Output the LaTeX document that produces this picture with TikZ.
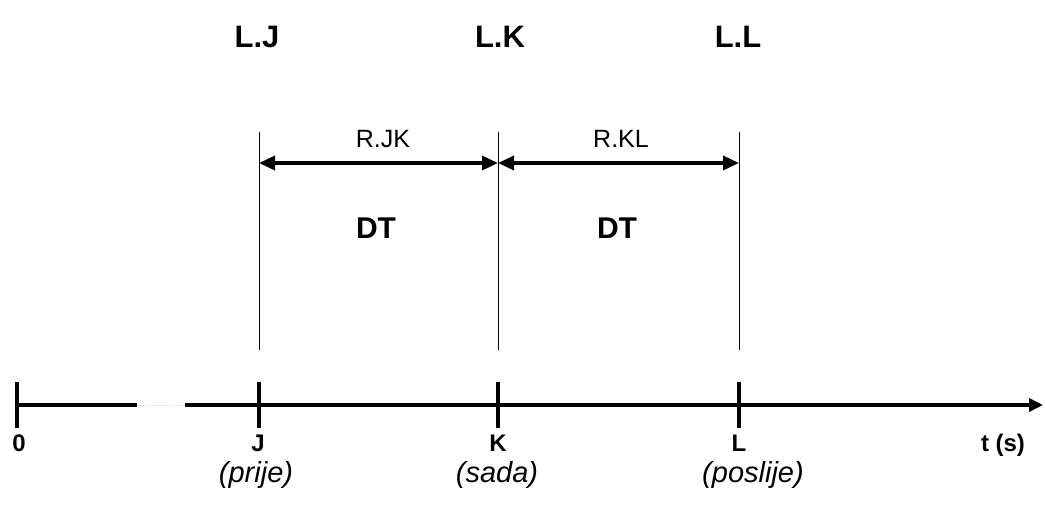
\documentclass[tikz,border=0pt]{standalone}
\usepackage{fontspec}
\setmainfont{Liberation Sans}
\usetikzlibrary{arrows.meta}
\begin{document}
\begin{tikzpicture}[x=1pt,y=-1pt,
  axis/.style={line width=4pt},
  tick/.style={line width=4pt},
  guide/.style={line width=0.9pt},
  span/.style={line width=3.5pt,{Triangle[length=16pt,width=14pt]}-{Triangle[length=16pt,width=14pt]}},
  toplab/.style={anchor=base,inner sep=0pt,font=\fontsize{31}{34}\selectfont\bfseries},
  rlab/.style={anchor=base,inner sep=0pt,font=\fontsize{25}{28}\selectfont},
  dtlab/.style={anchor=base,inner sep=0pt,font=\fontsize{30}{33}\selectfont\bfseries},
  axlab/.style={anchor=base,inner sep=0pt,font=\fontsize{24}{27}\selectfont\bfseries},
  sublab/.style={anchor=base,inner sep=0pt,font=\fontsize{29}{32}\selectfont\itshape}]
\useasboundingbox (0,0) rectangle (1045,517);
% axis points
\coordinate (O) at (17,405);
\coordinate (gapA) at (137,405);
\coordinate (gapB) at (185,405);
\coordinate (J) at (259,405);
\coordinate (K) at (498,405);
\coordinate (L) at (739,405);
\coordinate (E) at (1043,405);
% axis
\draw[axis] (O) -- (gapA);
\draw[gray!40,line width=1pt,dotted] (gapA) -- (gapB);
\draw[axis,-{Triangle[length=14pt,width=13pt]}] (gapB) -- (E);
% ticks
\foreach \p in {O,J,K,L}{
  \draw[tick] ([yshift=-23pt]\p) -- ([yshift=23pt]\p);
}
% guide lines
\coordinate (Jt) at (259,132); \coordinate (Jb) at (259,350);
\coordinate (Kt) at (498,132); \coordinate (Kb) at (498,350);
\coordinate (Lt) at (739,132); \coordinate (Lb) at (739,350);
\draw[guide] (Jt) -- (Jb);
\draw[guide] (Kt) -- (Kb);
\draw[guide] (Lt) -- (Lb);
% spans
\coordinate (Ja) at (259,163); \coordinate (Ka) at (498,163); \coordinate (La) at (739,163);
\draw[span] (Ja) -- (Ka);
\draw[span] (Ka) -- (La);
% labels
\node[toplab] (LJ) at (257,47) {L.J};
\node[toplab] (LK) at (500,47) {L.K};
\node[toplab] (LL) at (738,47) {L.L};
\node[rlab] (RJK) at (383,147) {R.JK};
\node[rlab] (RKL) at (621,147) {R.KL};
\node[dtlab] (DT1) at (376,238) {DT};
\node[dtlab] (DT2) at (617,238) {DT};
\node[axlab] (l0) at (19,451) {0};
\node[axlab] (lJ) at (258,451) {J};
\node[axlab] (lK) at (498,451) {K};
\node[axlab] (lL) at (739,451) {L};
\node[axlab] (lt) at (1003,451) {t (s)};
\node[sublab] (pJ) at (256,482) {(prije)};
\node[sublab] (pK) at (497,482) {(sada)};
\node[sublab] (pL) at (753,482) {(poslije)};
\end{tikzpicture}
\end{document}
